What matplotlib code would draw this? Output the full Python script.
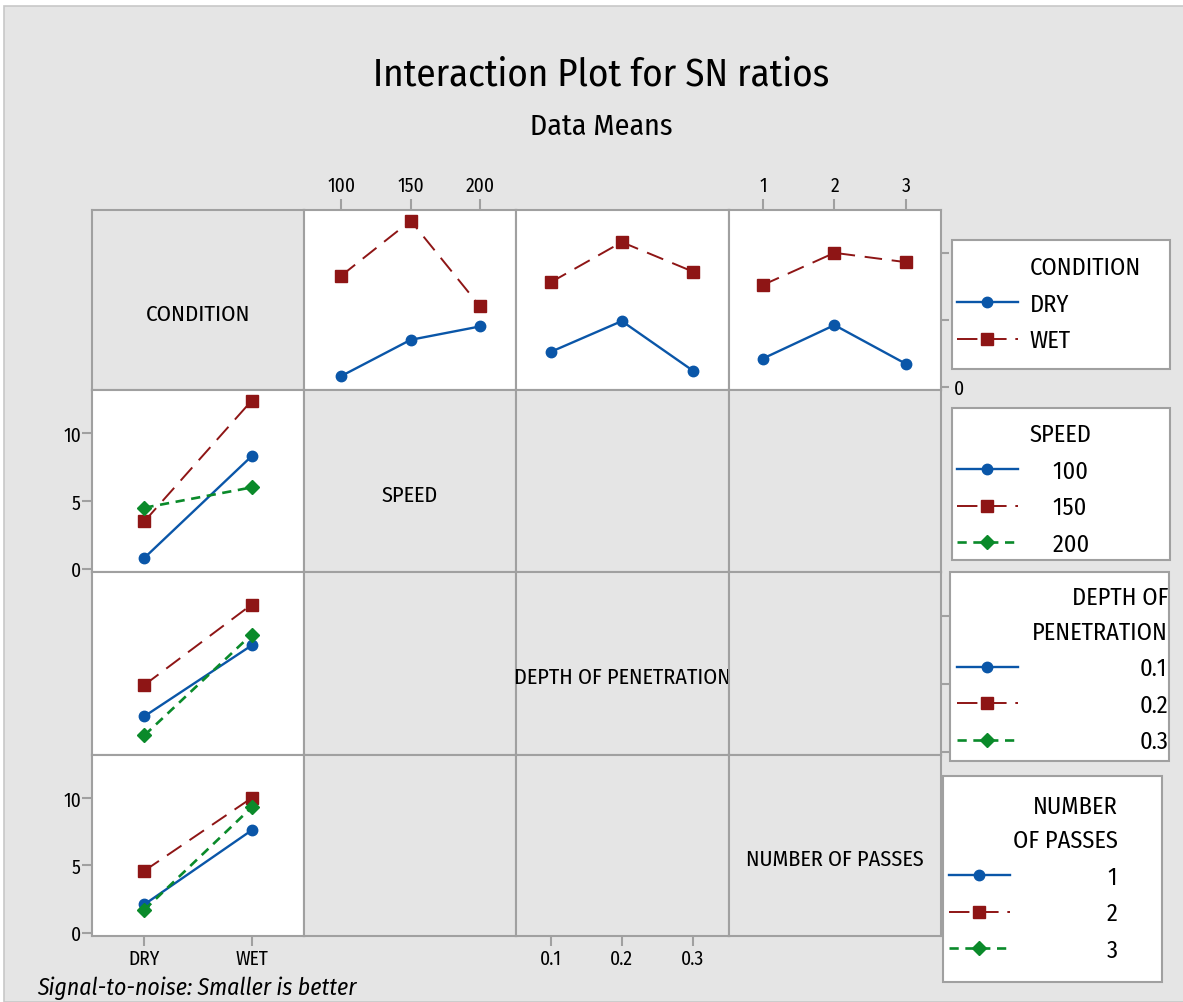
import numpy as np
import matplotlib
matplotlib.use("Agg")
import matplotlib.pyplot as plt
from matplotlib.lines import Line2D
from matplotlib.patches import Rectangle

plt.rcParams['font.family'] = ['Fira Sans Condensed', 'Asap Condensed', 'DejaVu Sans']

# ---------------- data (SN ratio means) ----------------
conditions = ['DRY', 'WET']
speed_levels = [100, 150, 200]
depth_levels = [0.1, 0.2, 0.3]
passes_levels = [1, 2, 3]

sn_speed_dry = [0.8, 3.5, 4.5]
sn_speed_wet = [8.3, 12.4, 6.0]
sn_depth_dry = [2.6, 4.9, 1.2]
sn_depth_wet = [7.8, 10.8, 8.6]
sn_passes_dry = [2.1, 4.6, 1.7]
sn_passes_wet = [7.6, 10.0, 9.3]

factor_names = ['CONDITION', 'SPEED', 'DEPTH OF PENETRATION', 'NUMBER OF PASSES']
speed_labels = ['100', '150', '200']
depth_labels = ['0.1', '0.2', '0.3']
passes_labels = ['1', '2', '3']
y_ticks = [0, 5, 10]

# ---------------- style ----------------
W, H = 1183, 1003
def fx(x): return x / W
def fy(y): return 1 - y / H

BG = '#e5e5e5'
GRAY = '#a0a0a0'
BLUE = '#0a56a8'
RED = '#8e1515'
GREEN = '#0a8a2a'
STY = [dict(color=BLUE, ls='-', marker='o', ms=7.5, lw=1.7),
       dict(color=RED, ls=(0, (9, 5)), marker='s', ms=8, lw=1.4),
       dict(color=GREEN, ls=(0, (3.5, 2.5)), marker='D', ms=7.5, lw=1.9)]

fig = plt.figure(figsize=(W / 100, H / 100), dpi=100, facecolor='white')
fig.add_artist(Rectangle((fx(4), 0), 1, fy(7), transform=fig.transFigure,
                         facecolor=BG, edgecolor='#c8c8c8', lw=1.2, zorder=-10))

Xe = [92, 304, 516, 729, 941]
Ye = [211, 391, 573, 756, 937]
cond_pos = np.arange(len(conditions))
xlims = [(-0.49, 1.49), (73, 226), (0.051, 0.351), (0.526, 3.489)]
YLIM = (-0.25, 13.2)
diag_sizes = [16.5, 16, 16, 16]

axes = [[None] * 4 for _ in range(4)]
for i in range(4):
    for j in range(4):
        ax = fig.add_axes([fx(Xe[j]), fy(Ye[i + 1]),
                           (Xe[j + 1] - Xe[j]) / W, (Ye[i + 1] - Ye[i]) / H])
        ax.set_xlim(*xlims[j])
        ax.set_ylim(*YLIM)
        ax.set_xticks([])
        ax.set_yticks([])
        data_panel = (i == 0 and j > 0) or (j == 0 and i > 0)
        ax.set_facecolor('white' if data_panel else BG)
        for sp in ax.spines.values():
            sp.set_color(GRAY)
            sp.set_linewidth(1.5)
        ax.tick_params(direction='out', color=GRAY, width=1.5, labelsize=14,
                       labelcolor='black')
        if i == j:
            ax.text(0.5, 0.425, factor_names[i], transform=ax.transAxes,
                    ha='center', va='center', fontsize=diag_sizes[i])
        axes[i][j] = ax

levels_list = [speed_levels, depth_levels, passes_levels]
dry_list = [sn_speed_dry, sn_depth_dry, sn_passes_dry]
wet_list = [sn_speed_wet, sn_depth_wet, sn_passes_wet]

# top row: CONDITION as trace factor
for j in range(1, 4):
    ax = axes[0][j]
    ax.plot(levels_list[j - 1], dry_list[j - 1], **STY[0])
    ax.plot(levels_list[j - 1], wet_list[j - 1], **STY[1])

# first column: CONDITION on x, other factor as trace
for i in range(1, 4):
    ax = axes[i][0]
    for k in range(3):
        ax.plot(cond_pos, [dry_list[i - 1][k], wet_list[i - 1][k]], **STY[k])

# ticks
for ax, lv, lb in [(axes[0][1], speed_levels, speed_labels),
                   (axes[0][3], passes_levels, passes_labels)]:
    ax.xaxis.tick_top()
    ax.set_xticks(lv)
    ax.set_xticklabels(lb)
    ax.tick_params(axis='x', length=8, pad=3)

axes[3][0].set_xticks(cond_pos)
axes[3][0].set_xticklabels(conditions)
axes[3][0].tick_params(axis='x', length=7, pad=2)
axes[3][2].set_xticks(depth_levels)
axes[3][2].set_xticklabels(depth_labels)
axes[3][2].tick_params(axis='x', length=7, pad=2)

for ax in (axes[1][0], axes[3][0]):
    ax.set_yticks(y_ticks)
    ax.set_yticklabels([str(t) for t in y_ticks])
    ax.tick_params(axis='y', length=7, pad=1)

axes[0][3].yaxis.tick_right()
axes[0][3].set_yticks(y_ticks)
axes[0][3].set_yticklabels(['0', '', ''])
axes[0][3].tick_params(axis='y', length=6, pad=3)
axes[2][3].yaxis.tick_right()
axes[2][3].set_yticks(y_ticks)
axes[2][3].set_yticklabels(['', '', ''])
axes[2][3].tick_params(axis='y', length=6)

# titles
fig.text(fx(601), fy(75), 'Interaction Plot for SN ratios', fontsize=28,
         ha='center', va='center')
fig.text(fx(601), fy(127), 'Data Means', fontsize=21.5, ha='center', va='center')
fig.text(fx(37), fy(988), 'Signal-to-noise: Smaller is better', fontsize=17,
         style='italic', ha='left', va='center')

# legends
def add_box(x0, y0, x1, y1):
    fig.add_artist(Rectangle((fx(x0), fy(y1)), (x1 - x0) / W, (y1 - y0) / H,
                             transform=fig.transFigure, facecolor='white',
                             edgecolor=GRAY, lw=1.5, zorder=3))

leg_sty = [dict(STY[0]), dict(STY[1], ls=(0, (10.5, 4.5))), dict(STY[2])]
handles = [Line2D([], [], **s) for s in leg_sty]
blank = Line2D([], [], color='none')
common = dict(loc='upper left', frameon=False, fontsize=17.5, borderpad=0,
              borderaxespad=0, handlelength=2.5, labelspacing=0.55)

add_box(952, 241, 1170, 370)
leg = fig.legend([blank, handles[0], handles[1]], ['CONDITION'] + conditions,
                 bbox_to_anchor=(fx(957), fy(257)), handletextpad=0.5, **common)
leg.set_zorder(5)

add_box(952, 409, 1170, 561)
leg = fig.legend([blank] + handles, ['SPEED'] + ['    ' + s for s in speed_labels],
                 bbox_to_anchor=(fx(957), fy(424)), handletextpad=0.5, **common)
leg.set_zorder(5)

add_box(950, 573, 1169, 762)
leg = fig.legend(handles, depth_labels, title='DEPTH OF\nPENETRATION',
                 title_fontsize=17.5, alignment='right',
                 bbox_to_anchor=(fx(957), fy(587)), handletextpad=5.0, **common)
leg.get_title().set_multialignment('right')
leg.get_title().set_linespacing(1.62)
leg.set_zorder(5)

add_box(943, 777, 1162, 983)
leg = fig.legend(handles, passes_labels, title='NUMBER\nOF PASSES',
                 title_fontsize=17.5, alignment='right',
                 bbox_to_anchor=(fx(949), fy(796)), handletextpad=4.0, **common)
leg.get_title().set_multialignment('right')
leg.get_title().set_linespacing(1.6)
leg.set_zorder(5)

fig.savefig('out.png', dpi=100, facecolor=fig.get_facecolor())
